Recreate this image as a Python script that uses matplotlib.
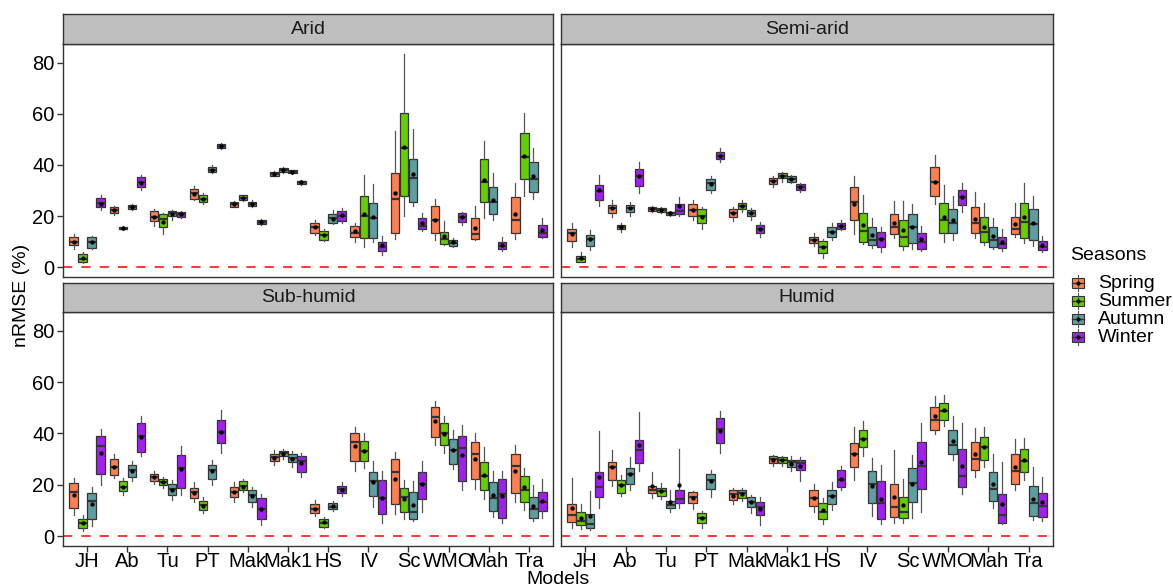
import matplotlib
matplotlib.use("Agg")
import matplotlib.pyplot as plt
from matplotlib.patches import Rectangle

plt.rcParams['font.family'] = ['Liberation Sans', 'DejaVu Sans']

models = ["JH", "Ab", "Tu", "PT", "Mak", "Mak1", "HS", "IV", "Sc", "WMO", "Mah", "Tra"]
seasons = ["Spring", "Summer", "Autumn", "Winter"]
season_colors = ["#FF7F50", "#66CD00", "#5F9EA0", "#A020F0"]
climates = ["Arid", "Semi-arid", "Sub-humid", "Humid"]
y_ticks = [0, 20, 40, 60, 80]

# Each model row holds one tuple per season:
# (lower whisker, Q1, median, Q3, upper whisker, mean)
arid = [
    [(6.9, 8.6, 10.0, 11.9, 12.8, 10.0), (1.5, 1.8, 3.3, 5.0, 5.9, 3.4), (6.9, 7.3, 9.9, 11.6, 12.1, 9.7), (22.3, 23.4, 25.2, 27.2, 28.1, 24.9)],
    [(20.5, 21.3, 22.3, 23.4, 24.0, 22.3), (14.5, 14.8, 15.1, 15.7, 15.9, 15.2), (22.2, 22.7, 23.6, 24.4, 24.9, 23.6), (30.2, 31.2, 33.4, 35.4, 36.0, 33.1)],
    [(16.1, 18.0, 19.7, 21.9, 22.6, 19.6), (12.8, 15.5, 19.0, 20.9, 21.3, 17.5), (18.4, 20.0, 21.0, 21.8, 22.3, 20.8), (19.3, 19.7, 20.8, 21.5, 22.1, 20.7)],
    [(26.2, 26.8, 28.9, 30.5, 31.9, 28.6), (24.9, 25.6, 26.6, 28.1, 29.0, 26.7), (36.9, 37.2, 38.1, 39.2, 39.8, 38.1), (46.1, 46.5, 47.4, 48.2, 48.7, 47.3)],
    [(23.6, 23.6, 24.7, 25.6, 25.8, 24.6), (26.0, 26.2, 27.2, 28.1, 28.3, 27.1), (23.4, 23.9, 24.7, 25.6, 26.1, 24.7), (16.3, 17.0, 17.8, 18.5, 18.9, 17.7)],
    [(35.5, 35.8, 36.6, 37.2, 37.5, 36.5), (36.9, 37.2, 38.1, 38.8, 39.2, 38.0), (36.6, 36.7, 37.3, 37.9, 38.1, 37.3), (32.1, 32.5, 33.2, 33.9, 34.3, 33.2)],
    [(12.5, 13.2, 15.5, 17.2, 18.4, 15.5), (10.3, 10.6, 12.5, 14.0, 15.0, 12.4), (16.8, 17.1, 19.1, 20.8, 22.2, 19.0), (17.4, 18.1, 20.0, 21.8, 23.0, 20.2)],
    [(9.8, 11.6, 13.4, 16.1, 17.4, 14.2), (8.0, 11.4, 20.0, 27.8, 36.0, 20.8), (9.9, 11.2, 19.1, 25.1, 32.4, 19.8), (4.8, 6.1, 7.7, 9.8, 12.1, 8.5)],
    [(10.8, 13.2, 26.8, 36.7, 53.3, 28.9), (20.0, 27.8, 46.5, 60.4, 83.3, 47.1), (24.0, 25.3, 34.7, 42.2, 54.0, 36.3), (14.2, 14.8, 16.1, 19.1, 21.3, 17.1)],
    [(10.6, 13.2, 18.4, 23.8, 26.5, 18.4), (8.6, 8.9, 11.0, 13.6, 18.1, 12.1), (8.0, 8.4, 9.5, 10.6, 11.2, 9.7), (16.3, 17.8, 19.5, 21.0, 21.5, 19.6)],
    [(10.6, 10.8, 12.9, 19.3, 24.0, 15.4), (19.3, 25.5, 33.3, 42.3, 49.3, 34.1), (18.3, 20.9, 25.5, 31.5, 36.7, 26.4), (6.4, 7.0, 8.2, 9.8, 11.7, 8.7)],
    [(10.8, 13.2, 18.3, 27.3, 32.8, 20.6), (27.8, 34.5, 43.3, 52.6, 60.4, 43.6), (26.5, 29.4, 34.6, 41.0, 46.5, 35.5), (11.4, 11.9, 13.4, 16.4, 19.1, 14.4)],
]

semi_arid = [
    [(8.0, 10.3, 13.4, 14.9, 17.1, 12.9), (1.8, 1.8, 3.1, 4.2, 5.9, 3.4), (6.7, 8.2, 10.8, 12.4, 14.5, 11.0), (23.9, 26.2, 29.8, 32.1, 36.0, 30.2)],
    [(19.5, 21.1, 23.2, 24.5, 26.1, 23.2), (13.8, 14.9, 15.5, 16.3, 17.1, 15.5), (20.1, 21.4, 23.2, 24.4, 25.6, 23.1), (29.2, 31.9, 35.8, 38.4, 41.1, 35.6)],
    [(21.7, 22.1, 22.8, 23.5, 23.8, 22.8), (21.0, 21.7, 22.5, 23.1, 23.4, 22.4), (20.1, 20.4, 21.0, 21.7, 21.9, 21.0), (20.0, 20.8, 22.0, 24.9, 27.5, 23.8)],
    [(18.4, 20.1, 22.3, 24.7, 26.1, 22.3), (14.9, 17.1, 20.0, 22.6, 23.6, 19.7), (28.9, 30.2, 33.0, 34.6, 35.6, 32.5), (41.3, 42.4, 43.7, 45.0, 46.5, 43.7)],
    [(18.1, 19.5, 21.0, 22.6, 23.5, 21.0), (21.5, 22.8, 24.0, 25.2, 26.2, 24.0), (18.4, 20.0, 21.0, 22.2, 23.0, 21.0), (11.6, 13.4, 14.9, 16.3, 17.6, 14.9)],
    [(31.5, 32.4, 33.7, 34.9, 35.6, 33.7), (33.4, 35.0, 35.8, 36.7, 37.2, 35.8), (32.8, 33.5, 34.6, 35.5, 36.0, 34.6), (29.5, 30.3, 31.3, 32.4, 33.0, 31.3)],
    [(8.4, 9.3, 10.6, 11.9, 13.2, 10.6), (3.7, 5.4, 7.8, 10.2, 11.0, 7.8), (10.6, 11.9, 13.8, 15.8, 17.1, 13.8), (14.5, 15.1, 16.2, 17.4, 18.5, 16.2)],
    [(12.8, 18.3, 25.6, 31.2, 35.8, 24.9), (9.1, 9.8, 14.0, 21.1, 28.1, 16.3), (7.3, 8.5, 10.6, 15.5, 19.1, 12.4), (5.9, 7.7, 10.8, 13.6, 15.8, 10.8)],
    [(11.2, 12.8, 15.5, 20.8, 25.8, 17.2), (6.7, 8.4, 11.9, 18.4, 25.8, 14.6), (6.9, 9.3, 15.8, 20.6, 24.7, 15.8), (6.1, 7.2, 9.7, 13.4, 16.1, 10.8)],
    [(24.9, 27.7, 33.2, 39.2, 44.1, 33.2), (9.7, 13.2, 18.4, 25.2, 32.0, 19.8), (10.6, 13.4, 17.4, 22.6, 27.8, 18.3), (21.7, 24.3, 27.5, 30.2, 33.0, 27.4)],
    [(11.5, 13.4, 17.1, 23.4, 29.5, 18.9), (8.7, 9.8, 13.8, 19.8, 25.2, 15.5), (7.0, 7.7, 10.6, 15.5, 19.3, 12.3), (6.3, 7.3, 9.0, 11.6, 14.9, 9.8)],
    [(11.6, 12.8, 14.8, 19.7, 25.2, 16.8), (9.3, 11.2, 17.8, 25.2, 32.8, 19.6), (8.2, 10.6, 16.7, 22.7, 27.8, 17.4), (5.9, 6.8, 8.0, 10.2, 12.1, 8.5)],
]

sub_humid = [
    [(8.2, 10.8, 17.0, 20.6, 22.8, 16.1), (2.1, 3.0, 5.0, 6.5, 8.2, 5.1), (3.9, 6.5, 13.7, 16.7, 19.1, 12.3), (20.0, 24.0, 35.0, 39.2, 41.8, 32.4)],
    [(22.6, 23.9, 26.9, 30.0, 32.0, 26.9), (16.1, 17.4, 19.3, 21.3, 22.5, 19.2), (21.3, 23.2, 25.6, 27.8, 29.4, 25.3), (31.1, 32.8, 38.9, 43.9, 47.0, 38.6)],
    [(20.4, 21.5, 23.0, 24.2, 25.2, 22.9), (18.8, 19.8, 21.1, 22.2, 23.1, 21.0), (14.1, 16.1, 18.4, 20.2, 21.7, 18.0), (16.1, 18.8, 26.5, 31.7, 35.0, 26.1)],
    [(13.1, 14.8, 17.1, 18.9, 20.9, 16.7), (8.9, 10.2, 12.0, 13.8, 15.4, 11.7), (20.0, 22.3, 25.8, 27.8, 29.5, 25.2), (32.4, 36.3, 40.7, 45.4, 49.1, 40.7)],
    [(13.4, 15.1, 17.2, 19.1, 20.9, 17.1), (17.1, 18.0, 19.7, 21.3, 22.2, 19.3), (11.5, 13.4, 16.1, 17.8, 19.1, 15.7), (4.3, 6.8, 10.7, 14.8, 16.3, 10.7)],
    [(27.8, 29.1, 30.7, 32.1, 33.7, 30.4), (30.0, 31.1, 32.2, 33.3, 34.1, 32.1), (26.9, 28.7, 30.4, 32.1, 33.0, 30.2), (23.0, 24.9, 29.4, 31.3, 32.4, 28.3)],
    [(7.8, 8.9, 10.7, 12.4, 14.1, 10.6), (3.0, 3.7, 5.2, 6.7, 7.6, 5.4), (9.7, 10.4, 11.5, 12.8, 13.8, 11.6), (15.7, 16.6, 18.3, 19.7, 21.1, 18.1)],
    [(25.5, 29.1, 36.6, 40.3, 42.4, 35.2), (26.5, 29.4, 33.3, 37.2, 40.2, 33.3), (11.2, 15.5, 21.5, 25.1, 29.2, 21.1), (5.2, 8.5, 14.8, 21.9, 25.2, 15.0)],
    [(8.5, 12.4, 24.8, 30.0, 32.8, 22.3), (6.5, 9.3, 15.4, 18.7, 21.9, 14.5), (6.0, 6.8, 9.4, 17.1, 21.3, 12.0), (9.3, 14.4, 20.1, 24.9, 29.4, 20.1)],
    [(35.6, 38.6, 46.6, 50.5, 52.6, 45.0), (32.4, 35.5, 40.2, 44.0, 46.7, 39.9), (26.1, 28.2, 33.4, 37.9, 41.3, 33.4), (18.0, 21.5, 34.3, 39.2, 43.3, 31.6)],
    [(18.4, 22.2, 32.0, 36.7, 40.0, 30.2), (14.4, 18.1, 23.5, 28.9, 34.7, 23.9), (7.6, 9.8, 14.9, 21.0, 25.2, 16.1), (5.0, 7.2, 16.4, 22.3, 25.2, 15.8)],
    [(13.4, 16.7, 27.2, 32.1, 35.5, 25.5), (10.2, 13.1, 18.0, 23.6, 26.5, 19.1), (6.0, 6.9, 10.4, 15.4, 20.0, 11.9), (6.9, 9.9, 13.1, 17.0, 22.2, 13.8)],
]

humid = [
    [(3.3, 5.4, 8.2, 12.4, 22.8, 11.0), (2.6, 4.3, 6.0, 9.3, 12.5, 6.9), (2.3, 3.0, 4.6, 8.6, 17.6, 7.7), (11.1, 15.4, 19.1, 24.9, 40.9, 23.0)],
    [(19.7, 21.8, 26.8, 28.9, 33.7, 26.8), (15.7, 16.7, 20.0, 21.9, 23.9, 20.0), (17.9, 20.2, 24.3, 26.5, 30.8, 24.3), (25.5, 28.5, 33.7, 37.6, 48.4, 35.4)],
    [(15.0, 16.7, 18.0, 19.7, 24.9, 19.6), (14.6, 15.7, 17.6, 18.7, 20.6, 17.5), (9.5, 10.8, 12.1, 13.8, 18.1, 13.3), (10.8, 12.8, 14.5, 18.1, 34.0, 20.0)],
    [(10.6, 12.8, 15.1, 17.1, 17.6, 14.7), (3.0, 5.0, 6.9, 8.9, 9.9, 6.9), (15.4, 18.3, 21.9, 24.3, 25.8, 21.3), (32.4, 36.1, 41.9, 46.1, 48.7, 40.9)],
    [(12.4, 14.1, 16.3, 17.8, 18.7, 15.7), (13.7, 14.8, 16.7, 17.8, 18.7, 16.4), (8.9, 11.5, 13.3, 15.2, 16.1, 13.1), (4.3, 8.2, 11.5, 13.4, 15.4, 10.7)],
    [(27.2, 28.5, 30.0, 31.1, 31.7, 29.5), (27.5, 28.6, 29.8, 30.7, 31.3, 29.5), (25.2, 26.8, 28.9, 29.8, 31.1, 28.1), (21.5, 25.6, 28.5, 29.6, 30.8, 27.2)],
    [(9.5, 11.7, 14.8, 17.9, 20.4, 14.8), (4.6, 6.7, 9.5, 12.8, 14.8, 10.2), (10.2, 12.5, 15.7, 18.1, 21.0, 15.7), (18.1, 19.1, 21.9, 25.6, 27.4, 22.3)],
    [(21.9, 26.9, 32.1, 36.3, 42.4, 32.1), (31.1, 34.7, 38.0, 41.4, 44.8, 38.0), (7.8, 12.8, 20.1, 25.5, 30.4, 19.7), (4.6, 6.8, 12.8, 21.4, 27.8, 14.6)],
    [(5.2, 7.3, 11.5, 20.4, 33.7, 15.4), (5.0, 7.2, 9.5, 15.1, 22.2, 12.0), (7.2, 13.4, 20.6, 26.4, 31.7, 20.1), (9.5, 18.3, 27.2, 36.6, 44.1, 28.9)],
    [(39.8, 41.3, 45.4, 50.4, 54.6, 46.7), (42.8, 45.2, 48.6, 51.9, 55.0, 49.0), (29.8, 32.0, 35.6, 41.3, 46.7, 37.1), (16.3, 19.3, 23.5, 34.1, 43.9, 27.2)],
    [(23.2, 25.6, 30.2, 36.6, 42.2, 32.0), (26.9, 29.8, 34.7, 38.6, 42.6, 34.7), (11.1, 13.6, 18.4, 25.1, 32.1, 20.1), (4.6, 5.2, 8.1, 16.3, 28.7, 12.4)],
    [(18.0, 20.4, 25.2, 32.0, 37.9, 26.9), (21.7, 24.9, 29.1, 33.9, 38.4, 29.6), (6.3, 8.0, 12.8, 19.7, 26.9, 14.6), (5.9, 7.3, 11.7, 16.7, 23.2, 13.4)],
]

panel_data = [arid, semi_arid, sub_humid, humid]

W, H = 1173, 587
fig = plt.figure(figsize=(W / 100, H / 100), dpi=100)


def px_rect(left, top, right, bottom):
    return [left / W, 1 - bottom / H, (right - left) / W, (bottom - top) / H]


panel_boxes = [(63, 44, 553, 277), (561, 44, 1053, 277),
               (63, 312, 553, 546), (561, 312, 1053, 546)]
strip_boxes = [(63, 14, 553, 44), (561, 14, 1053, 44),
               (63, 283, 553, 312), (561, 283, 1053, 312)]

dodge = 0.9
slot = dodge / len(seasons)
edge = "#333333"

for k, (name, data) in enumerate(zip(climates, panel_data)):
    ax = fig.add_axes(px_rect(*panel_boxes[k]))
    for s, color in enumerate(season_colors):
        stats, pos = [], []
        for m, row in enumerate(data):
            lo, q1, med, q3, hi, mean = row[s]
            stats.append(dict(whislo=lo, q1=q1, med=med, q3=q3, whishi=hi, mean=mean))
            pos.append(m + 1 + (s - 1.5) * slot)
        ax.bxp(stats, positions=pos, widths=slot * 0.93, patch_artist=True,
               showmeans=True, showcaps=False, showfliers=False,
               boxprops=dict(facecolor=color, edgecolor=edge, linewidth=0.9),
               whiskerprops=dict(color="#555555", linewidth=0.9),
               medianprops=dict(color=edge, linewidth=1.6),
               meanprops=dict(marker="o", markerfacecolor="black",
                              markeredgecolor="black", markersize=2.1))
    ax.axhline(0, color="red", linewidth=1.1, linestyle=(0, (6, 6)), zorder=0.5)
    ax.set_xlim(0.4, len(models) + 0.6)
    ax.set_ylim(-3.9, 87.4)
    for sp in ax.spines.values():
        sp.set_color("#333333")
        sp.set_linewidth(1.0)
    ax.tick_params(axis="both", length=4, width=1.0, color="#333333",
                   labelsize=14.5, labelcolor="black", pad=2)
    ax.tick_params(axis="x", pad=0.5)
    ax.set_xticks(range(1, len(models) + 1))
    ax.set_yticks(y_ticks)
    if k >= 2:
        ax.set_xticklabels(models)
    else:
        ax.tick_params(axis="x", length=0, labelbottom=False)
    if k % 2 == 0:
        ax.set_yticklabels([str(v) for v in y_ticks])
    else:
        ax.tick_params(axis="y", length=0, labelleft=False)

    sax = fig.add_axes(px_rect(*strip_boxes[k]))
    sax.set_facecolor("#BEBEBE")
    sax.set_xticks([])
    sax.set_yticks([])
    for sp in sax.spines.values():
        sp.set_color("#333333")
        sp.set_linewidth(1.0)
    sax.text(0.5, 0.5, name, ha="center", va="center", fontsize=14,
             color="#1a1a1a", transform=sax.transAxes)

fig.text(22 / W, 1 - 295 / H, "nRMSE (%)", rotation=90, ha="center",
         va="center", fontsize=14)
fig.text(558 / W, 1 - 579 / H, "Models", ha="center", va="center", fontsize=14)

# Legend drawn in pixel coordinates
lax = fig.add_axes(px_rect(1058, 240, 1173, 350))
lax.set_xlim(1058, 1173)
lax.set_ylim(350, 240)
lax.axis("off")
lax.text(1070, 255, "Seasons", ha="left", va="center", fontsize=14)
for i, (label, color) in enumerate(zip(seasons, season_colors)):
    yc = 283 + i * 18
    lax.plot([1078, 1078], [yc - 8, yc + 8], color="#555555", linewidth=0.8)
    lax.add_patch(Rectangle((1072, yc - 5), 12, 10, facecolor=color,
                            edgecolor=edge, linewidth=0.8))
    lax.plot([1072, 1084], [yc, yc], color=edge, linewidth=1.0)
    lax.plot([1078], [yc], marker="o", color="black", markersize=2)
    lax.text(1098, yc, label, ha="left", va="center", fontsize=14)

fig.savefig("out.png", dpi=100)
